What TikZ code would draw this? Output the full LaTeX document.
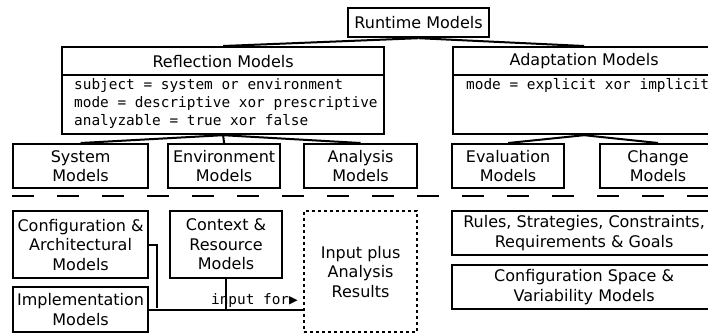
\documentclass[tikz,border=0pt]{standalone}
\usepackage{fontspec}
\setmainfont{DejaVu Sans}
\setmonofont{DejaVu Sans Mono}
\begin{document}
\begin{tikzpicture}[x=1pt,y=-1pt,
  box/.style={draw, line width=2.2pt, inner sep=0pt, align=center,
    font=\fontsize{16}{19.5}\selectfont},
  monotext/.style={inner sep=0pt, align=left,
    font=\ttfamily\fontsize{14.4}{18}\selectfont},
  conn/.style={line width=2pt},
  sep/.style={line width=2.2pt, dash pattern=on 22pt off 23pt}]
\useasboundingbox (0,0) rectangle (708,332);
% top
\node[box, minimum width=141pt, minimum height=29pt, anchor=north west] (runtime) at (347,7) {Runtime Models};
% reflection
\node[box, minimum width=322pt, minimum height=28pt, anchor=north west] (reflhead) at (61,46) {Reflection Models};
\node[box, minimum width=322pt, minimum height=59pt, anchor=north west] (reflbody) at (61,74) {};
\node[monotext, anchor=north west] (refltext) at (74,78) {subject = system or environment\\mode = descriptive xor prescriptive\\analyzable = true xor false};
% adaptation
\node[box, minimum width=262pt, minimum height=28pt, anchor=north west] (adapthead) at (452,46) {Adaptation Models};
\node[box, minimum width=262pt, minimum height=59pt, anchor=north west] (adaptbody) at (452,74) {};
\node[monotext, anchor=north west] (adapttext) at (466,78) {mode = explicit xor implicit};
% second row
\node[box, minimum width=135pt, minimum height=44pt, anchor=north west] (sys) at (12,143) {System\\Models};
\node[box, minimum width=112pt, minimum height=44pt, anchor=north west] (env) at (167,143) {Environment\\Models};
\node[box, minimum width=113pt, minimum height=44pt, anchor=north west] (ana) at (303,143) {Analysis\\Models};
\node[box, minimum width=112pt, minimum height=44pt, anchor=north west] (eval) at (451,143) {Evaluation\\Models};
\node[box, minimum width=116pt, minimum height=44pt, anchor=north west] (chg) at (599,143) {Change\\Models};
% connectors top
\draw[conn] (runtime.south) -- (reflhead.north);
\draw[conn] (runtime.south) -- (adapthead.north);
\draw[conn] (reflbody.south) -- (sys.north);
\draw[conn] (reflbody.south) -- (env.north);
\draw[conn] (reflbody.south) -- (ana.north);
\draw[conn] (adaptbody.south) -- (eval.north);
\draw[conn] (adaptbody.south) -- (chg.north);
% separator
\coordinate (sepl) at (12,196);
\coordinate (sepr) at (730,196);
\draw[sep] (sepl) -- (sepr);
% bottom row
\node[box, minimum width=135pt, minimum height=67pt, anchor=north west] (cfg) at (12,210) {Configuration \&\\Architectural\\Models};
\node[box, minimum width=112pt, minimum height=67pt, anchor=north west] (ctx) at (169,210) {Context \&\\Resource\\Models};
\node[box, minimum width=135pt, minimum height=45pt, anchor=north west] (impl) at (12,286) {Implementation\\Models};
\node[box, minimum width=113pt, minimum height=121pt, anchor=north west, dash pattern=on 3pt off 3pt] (inp) at (303,210) {Input plus\\Analysis\\Results};
\node[box, minimum width=264pt, minimum height=44pt, anchor=north west] (rules) at (451,210) {Rules, Strategies, Constraints,\\Requirements \& Goals};
\node[box, minimum width=264pt, minimum height=44pt, anchor=north west] (cspace) at (451,264) {Configuration Space \&\\Variability Models};
% bottom connectors
\coordinate (join) at (157,308);
\draw[conn] (cfg.east) -| (join);
\draw[conn] (impl.east) -- (impl.east -| inp.west);
\draw[conn] (ctx.south) -- (ctx.south |- impl.east);
\node[monotext, anchor=base east] (inlabel) at (298,304) {input for▶};
\end{tikzpicture}
\end{document}
